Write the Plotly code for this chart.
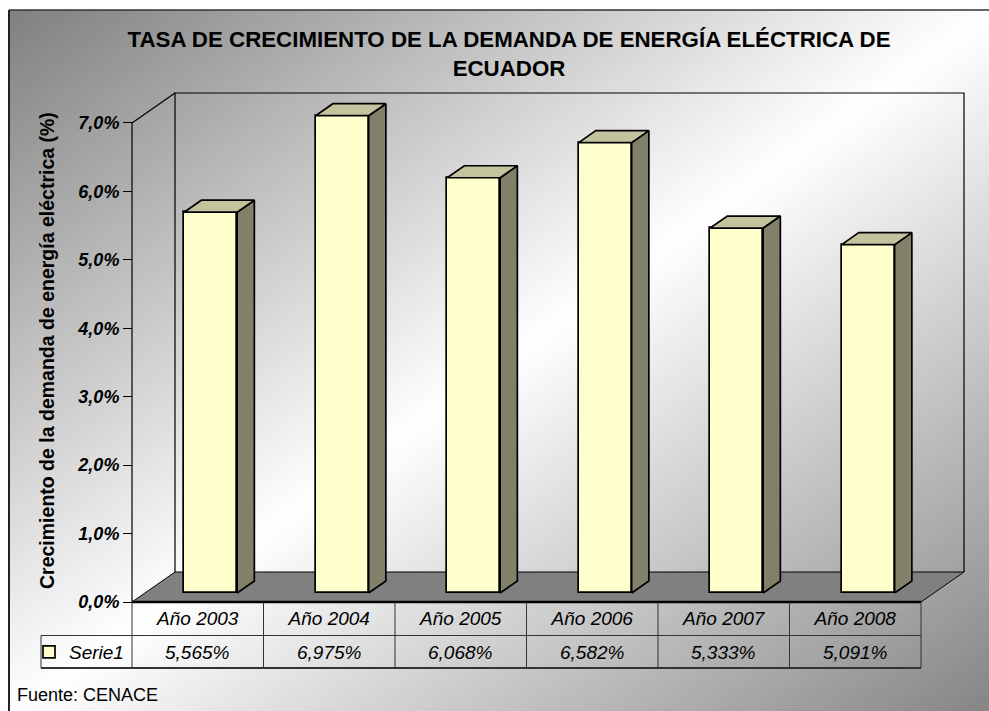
import plotly.graph_objects as go

# ---------------- data ----------------
categories = ["Año 2003", "Año 2004", "Año 2005", "Año 2006", "Año 2007", "Año 2008"]
values = [5.565, 6.975, 6.068, 6.582, 5.333, 5.091]
series_name = "Serie1"
y_tick_values = [0, 1, 2, 3, 4, 5, 6, 7]
y_tick_labels = [f"{v:.1f}%".replace(".", ",") for v in y_tick_values]
value_labels = [f"{v:.3f}%".replace(".", ",") for v in values]
title_text = "TASA DE CRECIMIENTO DE LA DEMANDA DE ENERGÍA ELÉCTRICA DE<br>ECUADOR"
y_title = "Crecimiento de la demanda de energía eléctrica (%)"
source_text = "Fuente: CENACE"

# ---------------- geometry / style ----------------
W, H = 989, 711
PX0, PY0 = 132, 602          # pixel of (x=0, y=0) on the front plane
SX, SY = 131.5, 68.43        # pixels per category / per percent
DX, DY = 43 / SX, 30 / SY    # full depth offset in data units
D_FRONT, D_BACK = 0.30, 0.70
BAR_W = 53 / SX
FONT = "Liberation Sans, Arial, sans-serif"
FRONT_C, TOP_C, SIDE_C = "#FFFFCC", "#C3C39D", "#81816A"
N = len(categories)
YMAX = max(y_tick_values)


def ux(px):
    return (px - PX0) / SX


def uy(py):
    return (PY0 - py) / SY


shapes = []

# background diagonal gradient (grey -> white -> grey)
GX0, GY0, GX1, GY1 = 9, 10, 995, 716


def clip(poly, a):
    out = []
    n = len(poly)
    for i in range(n):
        p, q = poly[i], poly[(i + 1) % n]
        fp, fq = p[0] + p[1] - a, q[0] + q[1] - a
        if fp >= 0:
            out.append(p)
        if fp * fq < 0:
            t = fp / (fp - fq)
            out.append((p[0] + t * (q[0] - p[0]), p[1] + t * (q[1] - p[1])))
    return out


NB = 140
square = [(0, 0), (1, 0), (1, 1), (0, 1)]
for k in range(NB):
    a = 2 * k / NB
    poly = clip(square, a)
    if len(poly) < 3:
        continue
    t = (k + 0.5) / NB
    if t < 0.5:
        g = 255 - (255 - 128) * (1 - 2 * t)
    else:
        g = 255 - (255 - 132) * (2 * t - 1)
    g = int(round(g))
    pts = []
    for (u, w) in poly:
        x = (GX0 + u * (GX1 - GX0)) / W
        y = 1 - (GY0 + w * (GY1 - GY0)) / H
        pts.append(f"{x:.5f},{y:.5f}")
    path = "M" + " L".join(pts) + " Z"
    shapes.append(dict(type="path", xref="paper", yref="paper", path=path,
                       fillcolor=f"rgb({g},{g},{g})", line=dict(width=0), layer="below"))

# outer border (top and left visible)
shapes.append(dict(type="line", xref="paper", yref="paper", x0=GX0 / W, y0=1 - GY0 / H,
                   x1=1, y1=1 - GY0 / H, line=dict(color="#333333", width=1.5), layer="below"))
shapes.append(dict(type="line", xref="paper", yref="paper", x0=GX0 / W, y0=1 - GY0 / H,
                   x1=GX0 / W, y1=0, line=dict(color="#222222", width=2), layer="below"))

# floor
shapes.append(dict(type="path", xref="x", yref="y",
                   path=f"M0,0 L{N},0 L{N + DX},{DY} L{DX},{DY} Z",
                   fillcolor="#808080", line=dict(color="black", width=1), layer="below"))
shapes.append(dict(type="line", xref="x", yref="y", x0=0, y0=0, x1=N, y1=0,
                   line=dict(color="black", width=2.5), layer="below"))
# back wall
shapes.append(dict(type="path", xref="x", yref="y",
                   path=f"M{DX},{DY} L{DX},{YMAX + DY} L{N + DX},{YMAX + DY} L{N + DX},{DY}",
                   line=dict(color="black", width=1.2), layer="below"))
# left axis line and side-wall top edge
shapes.append(dict(type="line", xref="x", yref="y", x0=0, y0=0, x1=0, y1=YMAX,
                   line=dict(color="black", width=1.2), layer="below"))
shapes.append(dict(type="line", xref="x", yref="y", x0=0, y0=YMAX, x1=DX, y1=YMAX + DY,
                   line=dict(color="black", width=1.2), layer="below"))

# data table grid
y_r1, y_r2 = uy(635.5), uy(668)
x_leg = ux(41)
TL = dict(color="#333333", width=1)
shapes.append(dict(type="line", xref="x", yref="y", x0=x_leg, y0=y_r1, x1=N, y1=y_r1, line=TL))
shapes.append(dict(type="line", xref="x", yref="y", x0=x_leg, y0=y_r2, x1=N, y1=y_r2,
                   line=dict(color="#333333", width=1.8)))
shapes.append(dict(type="line", xref="x", yref="y", x0=x_leg, y0=y_r1, x1=x_leg, y1=y_r2, line=TL))
for i in range(N + 1):
    shapes.append(dict(type="line", xref="x", yref="y", x0=i, y0=0, x1=i, y1=y_r2, line=TL))

# ---------------- traces ----------------
fig = go.Figure()
xc = [i + 0.5 + D_FRONT * DX for i in range(N)]
base = D_FRONT * DY
fig.add_trace(go.Bar(
    x=xc, y=values, base=base, width=BAR_W, name=series_name,
    marker=dict(color=FRONT_C, line=dict(color="black", width=1.7)),
    hoverinfo="skip", showlegend=True,
))

ddx, ddy = (D_BACK - D_FRONT) * DX, (D_BACK - D_FRONT) * DY
sx, sy, tx, ty = [], [], [], []
for c, v in zip(xc, values):
    xl, xr = c - BAR_W / 2, c + BAR_W / 2
    y0, y1 = base, base + v
    sx += [xr, xr + ddx, xr + ddx, xr, xr, None]
    sy += [y0, y0 + ddy, y1 + ddy, y1, y0, None]
    tx += [xl, xr, xr + ddx, xl + ddx, xl, None]
    ty += [y1, y1, y1 + ddy, y1 + ddy, y1, None]
fig.add_trace(go.Scatter(x=sx, y=sy, mode="lines", fill="toself", fillcolor=SIDE_C,
                         line=dict(color="black", width=1.7), hoverinfo="skip", showlegend=False))
fig.add_trace(go.Scatter(x=tx, y=ty, mode="lines", fill="toself", fillcolor=TOP_C,
                         line=dict(color="black", width=1.7), hoverinfo="skip", showlegend=False))

# ---------------- annotations ----------------
annotations = []
for i, lab in enumerate(value_labels):
    annotations.append(dict(x=i + 0.5, y=uy(652), xref="x", yref="y", text=lab, showarrow=False,
                            font=dict(family=FONT, size=19, color="black", style="italic")))
annotations.append(dict(x=47 / W, y=1 - 351 / H, xref="paper", yref="paper", text=y_title,
                        textangle=-90, showarrow=False, xanchor="center", yanchor="middle",
                        font=dict(family=FONT, size=19.5, color="black", weight="bold")))
annotations.append(dict(x=15 / W, y=1 - 695 / H, xref="paper", yref="paper", text=source_text,
                        showarrow=False, xanchor="left", yanchor="middle",
                        font=dict(family=FONT, size=18, color="black")))

fig.update_layout(
    width=W, height=H,
    margin=dict(l=0, r=0, t=0, b=0),
    paper_bgcolor="white", plot_bgcolor="rgba(0,0,0,0)",
    title=dict(text=title_text, x=509 / W, xanchor="center", xref="paper",
               y=1 - 47 / H, yanchor="top",
               font=dict(family=FONT, size=22.3, color="black", weight="bold")),
    xaxis=dict(range=[ux(0), ux(W)], domain=[0, 1], anchor="free", position=(H - PY0) / H,
               tickvals=[i + 0.5 for i in range(N)], ticktext=categories,
               showgrid=False, zeroline=False, showline=False, ticks="",
               ticklabelstandoff=3,
               tickfont=dict(family=FONT, size=19, color="black", style="italic"),
               fixedrange=True),
    yaxis=dict(range=[uy(H), uy(0)], domain=[0, 1], anchor="free", position=PX0 / W,
               tickvals=y_tick_values, ticktext=y_tick_labels,
               showgrid=False, zeroline=False, showline=False,
               ticks="outside", ticklen=9, tickcolor="black", tickwidth=1,
               tickfont=dict(family=FONT, size=18, color="black", weight="bold", style="italic"),
               fixedrange=True),
    showlegend=True,
    legend=dict(x=29 / W, y=1 - 652 / H, xanchor="left", yanchor="middle",
                bgcolor="rgba(0,0,0,0)", borderwidth=0,
                font=dict(family=FONT, size=19, color="black", style="italic")),
    shapes=shapes,
    annotations=annotations,
    hovermode=False,
    bargap=0,
)

fig.write_html("out.html", config={"displayModeBar": False},
               post_script="document.body.style.margin='0';document.body.style.overflow='hidden';")
